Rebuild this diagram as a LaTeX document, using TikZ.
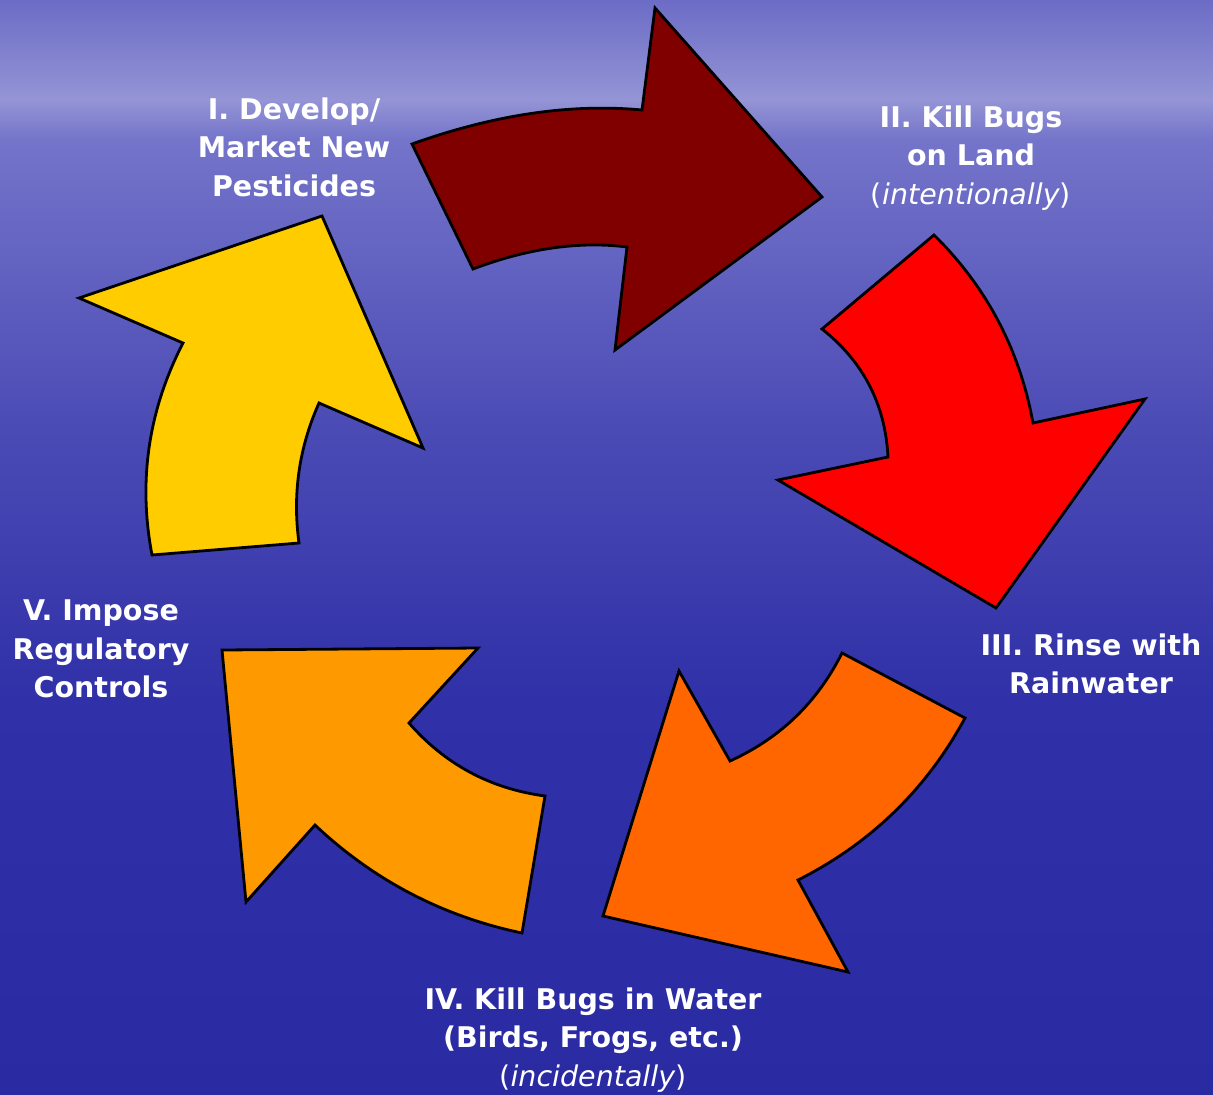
\documentclass[tikz,border=0pt]{standalone}
\usepackage{fontspec}
\setmainfont{DejaVu Sans}
\usetikzlibrary{calc}
\definecolor{bgA}{RGB}{108,108,198}
\definecolor{bgB}{RGB}{148,148,214}
\definecolor{bgC}{RGB}{116,116,202}
\definecolor{bgD}{RGB}{76,76,182}
\definecolor{bgE}{RGB}{48,48,168}
\definecolor{bgF}{RGB}{42,42,162}
\definecolor{arrI}{RGB}{128,0,0}
\definecolor{arrII}{RGB}{255,0,0}
\definecolor{arrIII}{RGB}{255,102,0}
\definecolor{arrIV}{RGB}{255,153,0}
\definecolor{arrV}{RGB}{255,204,0}
\tikzset{
  cyclearrow/.style={draw=black, line width=2.8pt, line join=miter},
  lbl/.style={text=white, font=\bfseries\fontsize{28.5}{38.5}\selectfont, align=center, inner sep=0pt},
}
% quadratic-like curve helper: P0 -> P2 with control Q
\newcommand{\qcurve}[3]{.. controls ($(#1)!0.6667!(#2)$) and ($(#3)!0.6667!(#2)$) .. (#3)}
\begin{document}
\begin{tikzpicture}[x=1pt,y=-1pt]
\useasboundingbox (0,0) rectangle (1213,1095);
% background
\shade[top color=bgA, bottom color=bgB] (0,0) rectangle (1213,100);
\shade[top color=bgB, bottom color=bgC] (0,99.5) rectangle (1213,140);
\shade[top color=bgC, bottom color=bgD] (0,139.5) rectangle (1213,420);
\shade[top color=bgD, bottom color=bgE] (0,419.5) rectangle (1213,700);
\shade[top color=bgE, bottom color=bgF] (0,699.5) rectangle (1213,1095);

% arrow I (dark red)
\path[cyclearrow, fill=arrI] (412,144) \qcurve{412,144}{535,100}{642,110}
  -- (655,8) -- (822,197) -- (615,350) -- (627,247)
  \qcurve{627,247}{555,238}{473,269} -- cycle;
% arrow II (red)
\path[cyclearrow, fill=arrII] (934,235) \qcurve{934,235}{1013,313}{1033,423}
  -- (1145,399) -- (996,608) -- (778,480) -- (888,457)
  \qcurve{888,457}{884,378}{822,329} -- cycle;
% arrow III (orange)
\path[cyclearrow, fill=arrIII] (842,653) -- (965,718)
  \qcurve{965,718}{907,825}{798,880}
  -- (848,972) -- (603,916) -- (679,671) -- (730,761)
  \qcurve{730,761}{805,727}{842,653} -- cycle;
% arrow IV (light orange)
\path[cyclearrow, fill=arrIV] (545,796) -- (522,933)
  \qcurve{522,933}{403,908}{315,825}
  -- (246,902) -- (222,650) -- (478,648) -- (409,723)
  \qcurve{409,723}{463,785}{545,796} -- cycle;
% arrow V (yellow)
\path[cyclearrow, fill=arrV] (152,555) -- (299,543)
  \qcurve{299,543}{289,470}{319,403}
  -- (423,448) -- (322,216) -- (79,298) -- (183,343)
  \qcurve{183,343}{131,444}{152,555} -- cycle;

% labels
\node[lbl] (l1) at (294,147) {I. Develop/\\Market New\\Pesticides};
\node[lbl] (l2) at (971,158) {II. Kill Bugs\\on Land\\{\mdseries(\itshape intentionally\/\upshape)}};
\node[lbl] (l3) at (1091,664) {III. Rinse with\\Rainwater};
\node[lbl] (l4) at (593,1040) {IV. Kill Bugs in Water\\(Birds, Frogs, etc.)\\{\mdseries(\itshape incidentally\/\upshape)}};
\node[lbl] (l5) at (101,649) {V. Impose\\Regulatory\\Controls};
\end{tikzpicture}
\end{document}
